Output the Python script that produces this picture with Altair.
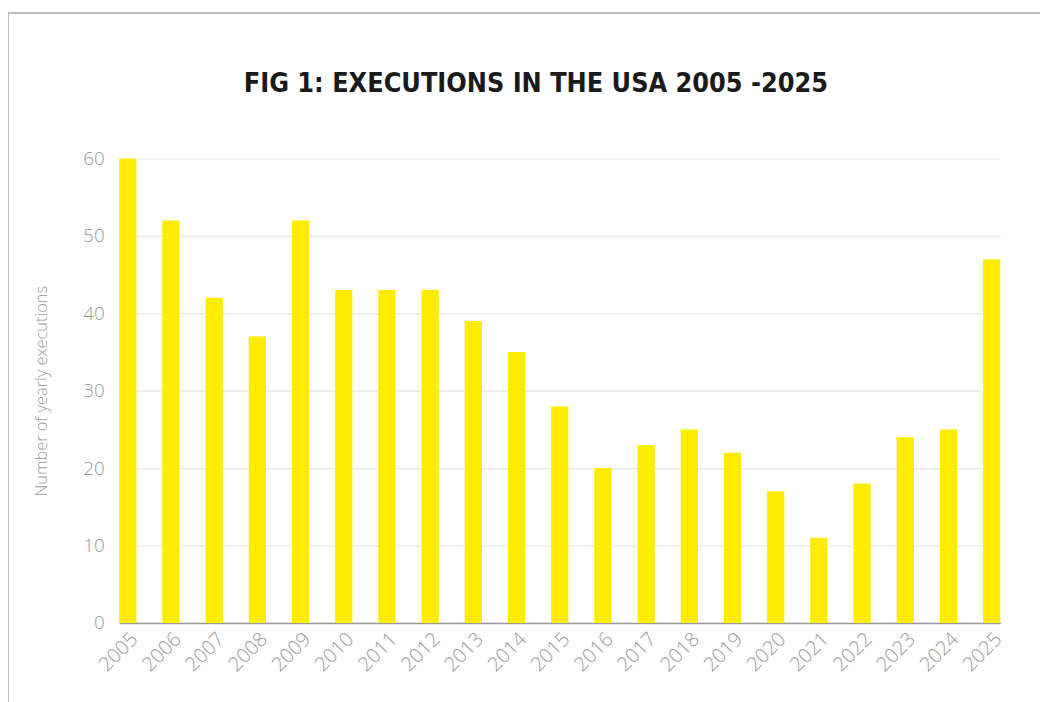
import altair as alt
import pandas as pd

years = [str(y) for y in range(2005, 2026)]
executions = [60, 52, 42, 37, 52, 43, 43, 43, 39, 35, 28, 20, 23, 25, 22, 17, 11, 18, 24, 25, 47]

df = pd.DataFrame({"year": years, "executions": executions})

LABEL_FONT = "Open Sans"
GRAY = "#9a9a9a"

bars = alt.Chart(df).mark_bar(color="#FFEC00").encode(
    x=alt.X(
        "year:N",
        sort=years,
        scale=alt.Scale(paddingInner=0.6, paddingOuter=0),
        axis=alt.Axis(
            title=None,
            labelAngle=-45,
            labelFont=LABEL_FONT,
            labelFontWeight=300,
            labelFontSize=20,
            labelColor=GRAY,
            labelPadding=6,
            ticks=False,
            domainColor="#9a9a9a",
            domainWidth=1.5,
            grid=False,
        ),
    ),
    y=alt.Y(
        "executions:Q",
        scale=alt.Scale(domain=[0, 60], nice=False),
        axis=alt.Axis(
            title="Number of yearly executions",
            titleFont=LABEL_FONT,
            titleFontWeight=300,
            titleFontSize=16.5,
            titleColor=GRAY,
            titlePadding=34,
            values=[0, 10, 20, 30, 40, 50, 60],
            labelFont=LABEL_FONT,
            labelFontWeight=300,
            labelFontSize=19,
            labelColor=GRAY,
            labelPadding=15,
            ticks=False,
            domain=False,
            grid=True,
            gridColor="#e6e6e6",
            gridWidth=1.2,
        ),
    ),
)

frame_left = alt.Chart(df).mark_rule(color="#bdbdbd", strokeWidth=1.5, clip=False).encode(
    x=alt.value(-112), y=alt.value(-147), y2=alt.value(560)
)
frame_top = alt.Chart(df).mark_rule(color="#bdbdbd", strokeWidth=1.5, clip=False).encode(
    x=alt.value(-112), x2=alt.value(940), y=alt.value(-147)
)

chart = alt.layer(bars, frame_left, frame_top).properties(
    width=888,
    height=468,
    title=alt.Title(
        "FIG 1: EXECUTIONS IN THE USA 2005 -2025",
        font="DejaVu Sans Condensed, Liberation Sans Narrow, sans-serif",
        fontSize=27,
        fontWeight="bold",
        color="#1a1a1a",
        anchor="middle",
        dx=-24,
        offset=0,
        dy=87,
    ),
    autosize=alt.AutoSizeParams(type="none"),
    padding={"left": 112, "top": 149, "right": 40, "bottom": 77},
).configure_view(stroke=None)

chart.save("out.html", embed_options={"renderer": "svg", "actions": False})
